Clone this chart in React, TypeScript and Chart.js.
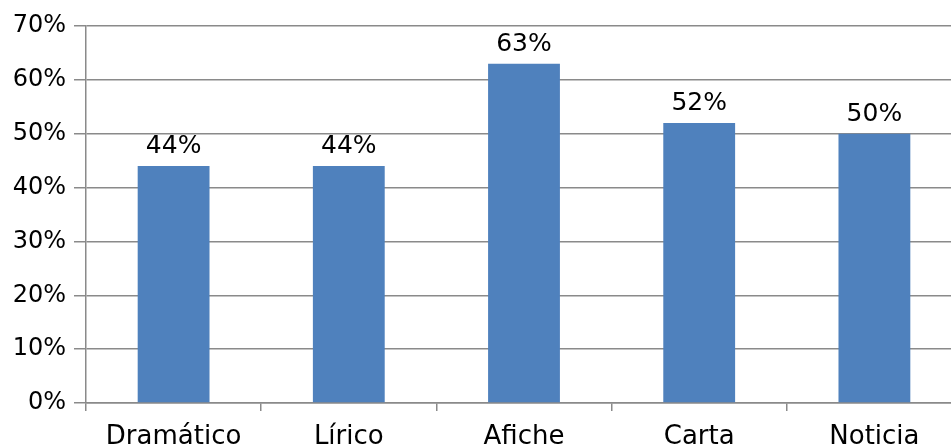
import React, { useEffect, useRef } from "react";
import { Chart, registerables } from "chart.js";

Chart.register(...registerables);

const categories = ["Dramático", "Lírico", "Afiche", "Carta", "Noticia"];
const values = [44, 44, 63, 52, 50];
const yTicks = [0, 10, 20, 30, 40, 50, 60, 70];

const FONT = "'DejaVu Sans', sans-serif";
const GRID = "#8a8a8a";

const barLabels = {
  id: "barLabels",
  afterDatasetsDraw(chart: any) {
    const ctx = chart.ctx;
    const meta = chart.getDatasetMeta(0);
    ctx.save();
    ctx.font = "25px " + FONT;
    ctx.fillStyle = "#000";
    ctx.textAlign = "center";
    ctx.textBaseline = "bottom";
    meta.data.forEach((el: any, i: number) => {
      ctx.fillText(values[i] + "%", el.x, el.y - 7);
    });
    ctx.restore();
  },
};

export default function App() {
  const ref = useRef<HTMLCanvasElement>(null);
  useEffect(() => {
    const chart = new Chart(ref.current!, {
      type: "bar",
      data: {
        labels: categories,
        datasets: [
          {
            data: values,
            backgroundColor: "#4F81BD",
            barPercentage: 0.41,
            categoryPercentage: 1,
          },
        ],
      },
      options: {
        animation: false,
        responsive: false,
        devicePixelRatio: 1,
        layout: { padding: { top: 26, right: 0, left: 0, bottom: 0 } },
        plugins: { legend: { display: false }, tooltip: { enabled: false } },
        scales: {
          x: {
            offset: true,
            border: { color: GRID, width: 1.5 },
            grid: {
              offset: true,
              drawOnChartArea: false,
              drawTicks: true,
              tickLength: 8,
              color: GRID,
              lineWidth: 1.5,
            },
            ticks: {
              color: "#000",
              font: { family: FONT, size: 26 },
              padding: 11,
              maxRotation: 0,
            },
            afterFit: (s: any) => {
              s.height = 67;
            },
          },
          y: {
            min: 0,
            max: 70,
            border: { color: GRID, width: 1.5 },
            grid: { color: GRID, lineWidth: 1.5, tickLength: 12 },
            afterBuildTicks: (s: any) => {
              s.ticks = yTicks.map((v) => ({ value: v }));
            },
            ticks: {
              color: "#000",
              font: { family: FONT, size: 24 },
              padding: 8,
              callback: (v: any) => v + "%",
            },
            afterFit: (s: any) => {
              s.width = 86;
            },
          },
        },
      },
      plugins: [barLabels],
    });
    return () => chart.destroy();
  }, []);
  return (
    <div style={{ position: "fixed", left: 0, top: 0, width: 962, height: 470, overflow: "hidden" }}>
      <canvas ref={ref} width={962} height={470} style={{ display: "block" }} />
    </div>
  );
}
